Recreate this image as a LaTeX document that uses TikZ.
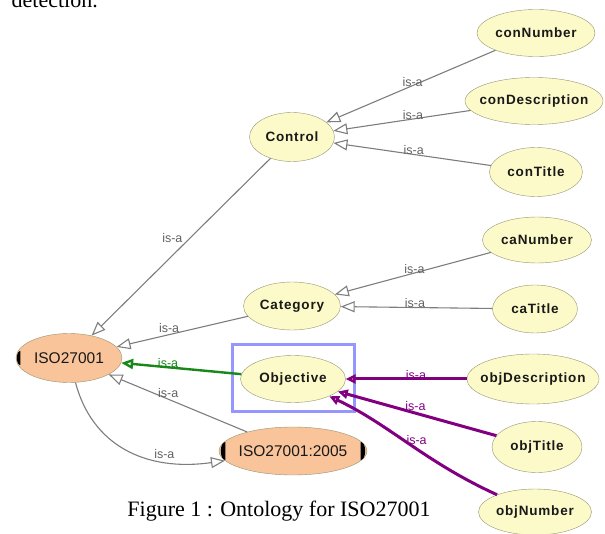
\documentclass[tikz,border=0pt]{standalone}
\usepackage{fontspec}
\setmainfont{Liberation Serif}
\setsansfont{Liberation Sans}
\newfontfamily\clsfont[LetterSpace=6]{Liberation Sans}
\usetikzlibrary{shapes.geometric,arrows.meta}
\definecolor{clsfill}{RGB}{252,250,200}
\definecolor{clsline}{RGB}{150,148,115}
\definecolor{instfill}{RGB}{249,196,154}
\definecolor{isagray}{RGB}{125,125,125}
\definecolor{isagreen}{RGB}{25,135,25}
\definecolor{isapurple}{RGB}{128,0,128}
\definecolor{selblue}{RGB}{150,150,255}

\begin{document}
\begin{tikzpicture}[x=1pt,y=-1pt,
  cls/.style={ellipse,draw=clsline,fill=clsfill,inner sep=0pt,text=black!90,
    font=\clsfont\bfseries\fontsize{13.5}{15}\selectfont},
  inst/.style={ellipse,draw=clsline,fill=instfill,inner sep=0pt,text=black!90,
    font=\sffamily\fontsize{15.5}{17}\selectfont},
  isa/.style={draw=isagray,line width=1.1pt,-{Triangle[open,length=14pt,width=11pt]}},
  greenlink/.style={isa,draw=isagreen,line width=2.4pt,-{Triangle[open,length=12pt,width=10pt]}},
  objlink/.style={isa,draw=isapurple,line width=3pt,-{Triangle[open,length=10pt,width=9pt]}},
  lbl/.style={font=\sffamily\fontsize{12.5}{14}\selectfont,text=black!62,inner sep=1pt,yshift=4pt}]
   \useasboundingbox (0,0) rectangle (605,534);

   \node[font=\fontsize{22}{26}\selectfont,anchor=base east,inner sep=0pt] (prevline) at (98,8) {detection.};

   % selection frame
   \draw[selblue,line width=3pt] (232,345) rectangle (354,411);

   \foreach \n/\x/\y/\w/\h in {conNumber/536/33/118/47,conDescription/534/101/138/47,
      conTitle/536/172/93/49,Control/292/137/85/49,caNumber/537/240/109/46,
      caTitle/535/309/85/48,Category/292/306/97/48,Objective/293/379/105/47,
      objDescription/533/379/132/50,objTitle/537/447/90/51,objNumber/535/512/113/46}{
   \node[cls,minimum width=\w,minimum height=\h] (\n) at (\x,\y) {\makebox[0pt]{\n}};
   }
   \node[inst,minimum width=106,minimum height=49] (ISO27001) at (69,358) {\makebox[0pt]{ISO27001}};
   \node[inst,minimum width=148,minimum height=48] (ISO2005) at (293,451) {\makebox[0pt]{ISO27001:2005}};
   \fill[shift={(ISO27001.west)}] (4.5,-7) arc[start angle=270,end angle=90,x radius=3.5,y radius=7] -- cycle;
   \fill[shift={(ISO2005.west)}] (6.5,-9) arc[start angle=270,end angle=90,x radius=4.5,y radius=9] -- cycle;
   \fill[shift={(ISO2005.east)}] (-6.5,-9) arc[start angle=270,end angle=450,x radius=4.5,y radius=9] -- cycle;

   \foreach \src/\p in {conNumber/0.49,conDescription/0.42,conTitle/0.49}
   \draw[isa] (\src) -- node[lbl,pos=\p] {is-a} (Control);
   \foreach \src/\p in {caNumber/0.49,caTitle/0.51}
   \draw[isa] (\src) -- node[lbl,pos=\p] {is-a} (Category);

   \draw[isa] (Control) -- node[lbl,pos=0.45,anchor=east,xshift=-6pt,yshift=-4pt] {is-a} (ISO27001);
   \draw[isa] (Category) -- node[lbl,pos=0.6,yshift=3pt] {is-a} (ISO27001);
   \draw[greenlink] (Objective) -- node[lbl,text=isagreen,pos=0.61] {is-a} (ISO27001);
   \draw[isa] (ISO2005) -- node[lbl,pos=0.57,yshift=2pt] {is-a} (ISO27001);
   \draw[isa] (ISO27001) .. controls (92,445) and (145,472) .. node[lbl,pos=0.72,yshift=3pt] {is-a} (ISO2005);

   \draw[objlink] (objDescription) -- node[lbl,text=isapurple,pos=0.42] {is-a} (Objective);
   \draw[objlink] (objTitle) -- node[lbl,text=isapurple,pos=0.51,yshift=3pt] {is-a} (Objective);
   \draw[objlink] (objNumber) .. controls (425,462) and (390,425) .. node[lbl,text=isapurple,pos=0.45,yshift=5pt] {is-a} (Objective);

   \node[font=\fontsize{22}{26}\selectfont,inner sep=0pt] (caption) at (279,511) {Figure 1 : Ontology for ISO27001};
\end{tikzpicture}
\end{document}
